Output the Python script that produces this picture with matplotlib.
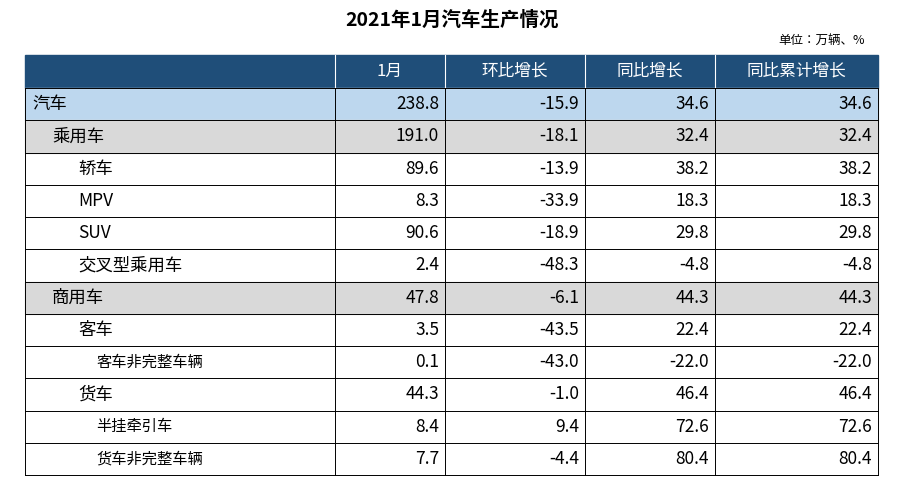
import matplotlib.pyplot as plt
from matplotlib.patches import Rectangle

plt.rcParams['font.family'] = ['Noto Sans CJK SC', 'Noto Sans CJK JP', 'Noto Sans CJK TC',
                               'Noto Sans CJK KR', 'DejaVu Sans']

title = '2021年1月汽车生产情况'
unit = '单位：万辆、%'
headers = ['', '1月', '环比增长', '同比增长', '同比累计增长']
names = ['汽车', '乘用车', '轿车', 'MPV', 'SUV', '交叉型乘用车', '商用车', '客车',
         '客车非完整车辆', '货车', '半挂牵引车', '货车非完整车辆']
levels = [0, 1, 2, 2, 2, 2, 1, 2, 3, 2, 3, 3]
month = [238.8, 191.0, 89.6, 8.3, 90.6, 2.4, 47.8, 3.5, 0.1, 44.3, 8.4, 7.7]
mom = [-15.9, -18.1, -13.9, -33.9, -18.9, -48.3, -6.1, -43.5, -43.0, -1.0, 9.4, -4.4]
yoy = [34.6, 32.4, 38.2, 18.3, 29.8, -4.8, 44.3, 22.4, -22.0, 46.4, 72.6, 80.4]
yoy_cum = [34.6, 32.4, 38.2, 18.3, 29.8, -4.8, 44.3, 22.4, -22.0, 46.4, 72.6, 80.4]

fig = plt.figure(figsize=(9.04, 4.87), dpi=100)
ax = fig.add_axes([0, 0, 1, 1])
ax.set_xlim(0, 904)
ax.set_ylim(487, 0)
ax.axis('off')

cols = [25, 335, 445, 585, 715, 878]
top, head_h, row_h = 55, 33, 32.25
indent = {0: 32, 1: 52, 2: 78, 3: 96}
fills = {0: '#BDD7EE', 1: '#D9D9D9', 6: '#D9D9D9'}

ax.text(452, 20, title, ha='center', va='center', fontsize=14, fontweight='bold')
ax.text(865, 40, unit, ha='right', va='center', fontsize=9)

# header
ax.add_patch(Rectangle((cols[0], top), cols[-1] - cols[0], head_h, color='#1F4E79'))
for i, h in enumerate(headers):
    if h:
        ax.text((cols[i] + cols[i + 1]) / 2, top + head_h / 2, h, color='white',
                ha='center', va='center', fontsize=12)
for x in cols[1:-1]:
    ax.plot([x, x], [top, top + head_h], color='white', lw=0.8)

y0 = top + head_h
for r, name in enumerate(names):
    y = y0 + r * row_h
    if r in fills:
        ax.add_patch(Rectangle((cols[0], y), cols[-1] - cols[0], row_h, color=fills[r]))
    fs = 11 if levels[r] == 3 else 12.5
    ax.text(indent[levels[r]], y + row_h / 2, name, ha='left', va='center', fontsize=fs)
    for c, v in enumerate([month[r], mom[r], yoy[r], yoy_cum[r]]):
        ax.text(cols[c + 2] - 6, y + row_h / 2, f'{v:.1f}', ha='right', va='center',
                fontsize=12.5)
    ax.plot([cols[0], cols[-1]], [y + row_h, y + row_h], color='black', lw=0.7)

bottom = y0 + len(names) * row_h
ax.plot([cols[0], cols[-1]], [y0, y0], color='black', lw=0.7)
for x in cols:
    ax.plot([x, x], [y0, bottom], color='black', lw=0.7)

fig.savefig('out.png', dpi=100)
